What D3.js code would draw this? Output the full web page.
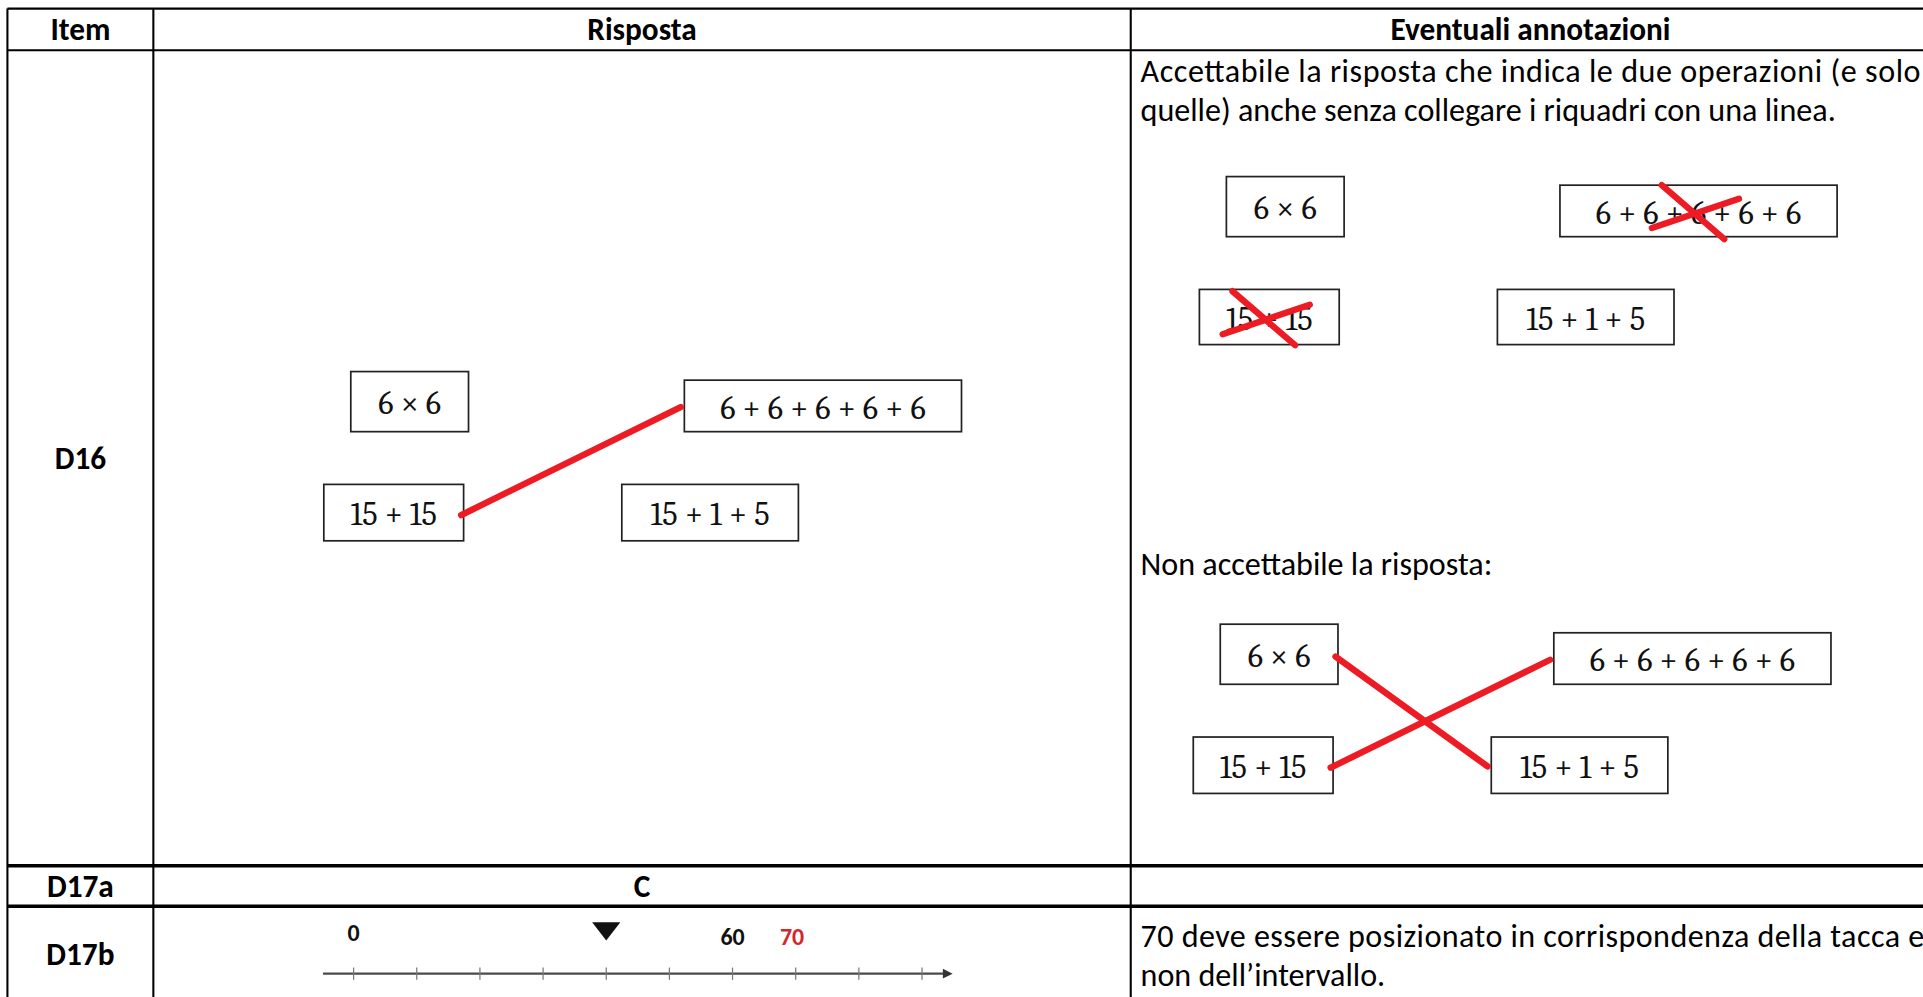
<!DOCTYPE html>
<html>
<head>
<meta charset="utf-8">
<script src="https://cdn.jsdelivr.net/npm/d3@7"></script>
<style>
  html, body { margin: 0; padding: 0; background: #fff; overflow: hidden; }
</style>
</head>
<body>
<div id="sheet"></div>
<script>
// table content
const columns = ["Item", "Risposta", "Eventuali annotazioni"];
const items = ["D16", "D17a", "D17b"];
const operations = ["6 × 6", "6 + 6 + 6 + 6 + 6", "15 + 15", "15 + 1 + 5"];
const answerLinks = [["15 + 15", "6 + 6 + 6 + 6 + 6"]];
const crossedOut = ["6 + 6 + 6 + 6 + 6", "15 + 15"];
const wrongLinks = [["6 × 6", "15 + 1 + 5"], ["15 + 15", "6 + 6 + 6 + 6 + 6"]];
const d17aAnswer = "C";
const noteAccept = ["Accettabile la risposta che indica le due operazioni (e solo",
                    "quelle) anche senza collegare i riquadri con una linea."];
const noteReject = "Non accettabile la risposta:";
const noteD17b = ["70 deve essere posizionato in corrispondenza della tacca e",
                  "non dell\u2019intervallo."];

// number line
const lineTicks = [0, 10, 20, 30, 40, 50, 60, 70, 80, 90];
const lineLabels = [0, 60];
const markerValue = 40;
const answerValue = 70;

// ---- layout (in a 1568 x 813 drawing space) ----
const W = 1568, H = 813;
const colEdges = [6, 125, 922, 1574];
const rowEdges = [7, 41, 706, 739, 830];
const red = "#ed1c24";
const textFont = "Carlito, Calibri, Lato, 'Open Sans', sans-serif";
const boxFont = "Caladea, Cambria, 'Liberation Serif', serif";

// box rectangles for each panel, keyed by operation
const panels = {
  answer: {
    "6 × 6": [286, 303, 96, 49],
    "6 + 6 + 6 + 6 + 6": [558, 310, 226, 42],
    "15 + 15": [264, 395, 114, 46],
    "15 + 1 + 5": [507, 395, 144, 46]
  },
  accept: {
    "6 × 6": [1000, 144, 96, 49],
    "6 + 6 + 6 + 6 + 6": [1272, 151, 226, 42],
    "15 + 15": [978, 236, 114, 45],
    "15 + 1 + 5": [1221, 236, 144, 45]
  },
  reject: {
    "6 × 6": [995, 509, 96, 49],
    "6 + 6 + 6 + 6 + 6": [1267, 516, 226, 42],
    "15 + 15": [973, 601, 114, 46],
    "15 + 1 + 5": [1216, 601, 144, 46]
  }
};

const svg = d3.select("#sheet").append("svg")
  .attr("width", 1923)
  .attr("height", 997)
  .attr("viewBox", `0 0 ${W} ${H}`)
  .style("display", "block");

// ---- grid ----
const grid = svg.append("g").attr("stroke", "#000").attr("fill", "none");
grid.selectAll("line.v")
  .data(colEdges)
  .join("line")
  .attr("class", "v")
  .attr("x1", d => d).attr("x2", d => d)
  .attr("y1", rowEdges[0]).attr("y2", rowEdges[rowEdges.length - 1])
  .attr("stroke-width", 1.7);
grid.selectAll("line.h")
  .data(rowEdges)
  .join("line")
  .attr("class", "h")
  .attr("x1", colEdges[0]).attr("x2", colEdges[colEdges.length - 1])
  .attr("y1", d => d).attr("y2", d => d)
  .attr("stroke-width", (d, i) => (i === 2 || i === 3) ? 2.8 : 1.7);

const colMid = i => (colEdges[i] + colEdges[i + 1]) / 2;
const rowMid = i => (rowEdges[i] + rowEdges[i + 1]) / 2;

// header
svg.append("g").selectAll("text")
  .data(columns)
  .join("text")
  .attr("x", (d, i) => colMid(i))
  .attr("y", rowMid(0))
  .attr("dy", "0.35em")
  .attr("text-anchor", "middle")
  .attr("font-family", textFont)
  .attr("font-weight", "bold")
  .attr("font-size", 25.5)
  .text(d => d);

// item column
svg.append("g").selectAll("text")
  .data(items)
  .join("text")
  .attr("x", colMid(0))
  .attr("y", (d, i) => i === 2 ? 778 : rowMid(i + 1))
  .attr("dy", "0.35em")
  .attr("text-anchor", "middle")
  .attr("font-family", textFont)
  .attr("font-weight", "bold")
  .attr("font-size", 25.5)
  .text(d => d);

// D17a answer
svg.append("text")
  .attr("x", colMid(1))
  .attr("y", rowMid(2))
  .attr("dy", "0.35em")
  .attr("text-anchor", "middle")
  .attr("font-family", textFont)
  .attr("font-weight", "bold")
  .attr("font-size", 25.5)
  .text(d17aAnswer);

// ---- notes ----
function noteLines(lines, y0, justifyFirst, rightEdge) {
  const g = svg.append("g")
    .attr("font-family", textFont)
    .attr("font-size", 26.2)
    .attr("fill", "#000");
  g.selectAll("text")
    .data(lines)
    .join("text")
    .attr("x", 930)
    .attr("y", (d, i) => y0 + i * 32)
    .attr("textLength", (d, i) => (justifyFirst && i === 0) ? rightEdge - 930 : null)
    .attr("lengthAdjust", "spacing")
    .text(d => d);
}
noteLines(noteAccept, 67, true, 1566);
noteLines([noteReject], 469, false);
noteLines(noteD17b, 772, true, 1569);

// ---- operation boxes ----
function drawBoxes(boxes) {
  const g = svg.append("g");
  const node = g.selectAll("g")
    .data(operations)
    .join("g");
  node.append("rect")
    .attr("x", d => boxes[d][0])
    .attr("y", d => boxes[d][1])
    .attr("width", d => boxes[d][2])
    .attr("height", d => boxes[d][3])
    .attr("fill", "#fff")
    .attr("stroke", "#222")
    .attr("stroke-width", 1.4);
  node.append("text")
    .attr("x", d => boxes[d][0] + boxes[d][2] / 2)
    .attr("y", d => boxes[d][1] + boxes[d][3] / 2 + 1)
    .attr("dy", "0.35em")
    .attr("text-anchor", "middle")
    .attr("font-family", boxFont)
    .attr("font-size", 26.5)
    .attr("fill", "#111")
    .text(d => d);
}

function drawLinks(boxes, links) {
  svg.append("g").selectAll("line")
    .data(links)
    .join("line")
    .attr("x1", d => boxes[d[0]][0] + boxes[d[0]][2] - 2)
    .attr("y1", d => boxes[d[0]][1] + boxes[d[0]][3] / 2 + 2)
    .attr("x2", d => boxes[d[1]][0] - 3)
    .attr("y2", d => boxes[d[1]][1] + boxes[d[1]][3] / 2 + 1)
    .attr("stroke", red)
    .attr("stroke-width", 5.2)
    .attr("stroke-linecap", "round");
}

function drawCrosses(boxes, names) {
  const cross = svg.append("g").selectAll("g")
    .data(names)
    .join("g")
    .attr("transform", d => `translate(${boxes[d][0] + boxes[d][2] / 2 - 3},${boxes[d][1] + boxes[d][3] / 2 + 1})`)
    .attr("stroke", red)
    .attr("stroke-width", 5.2)
    .attr("stroke-linecap", "round");
  cross.append("line").attr("x1", -27).attr("y1", -22).attr("x2", 24).attr("y2", 22);
  cross.append("line").attr("x1", -35).attr("y1", 13).attr("x2", 36).attr("y2", -11);
}

drawBoxes(panels.answer);
drawLinks(panels.answer, answerLinks);
drawBoxes(panels.accept);
drawCrosses(panels.accept, crossedOut);
drawBoxes(panels.reject);
drawLinks(panels.reject, wrongLinks);

// ---- number line (D17b) ----
const x = d3.scaleLinear().domain([0, 90]).range([288.3, 751.8]);
const axisY = 794;
const nl = svg.append("g");
nl.append("line")
  .attr("x1", x(0) - 25).attr("x2", x(90) + 22)
  .attr("y1", axisY).attr("y2", axisY)
  .attr("stroke", "#4a4a4a")
  .attr("stroke-width", 1.8);
nl.append("path")
  .attr("d", `M${x(90) + 25},${axisY} l-8,-4 l0,8 z`)
  .attr("fill", "#333");
nl.selectAll("line.tick")
  .data(lineTicks)
  .join("line")
  .attr("class", "tick")
  .attr("x1", d => x(d)).attr("x2", d => x(d))
  .attr("y1", axisY - 5).attr("y2", axisY + 5)
  .attr("stroke", "#777")
  .attr("stroke-width", 1);
nl.selectAll("text")
  .data(lineLabels.concat([answerValue]))
  .join("text")
  .attr("x", d => x(d) + (d === answerValue ? -3 : 0))
  .attr("y", (d, i) => i === 0 ? 767 : 771)
  .attr("text-anchor", "middle")
  .attr("font-family", textFont)
  .attr("font-weight", "bold")
  .attr("font-size", 19.5)
  .attr("fill", d => d === answerValue ? "#d3262c" : "#111")
  .text(d => d);
nl.append("path")
  .attr("d", `M${x(markerValue) - 11.5},752 L${x(markerValue) + 11.5},752 L${x(markerValue)},767 Z`)
  .attr("fill", "#111");
</script>
</body>
</html>
